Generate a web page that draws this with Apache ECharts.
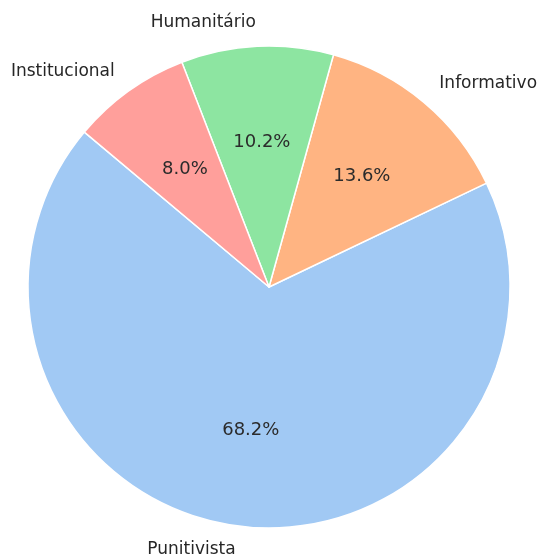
<!DOCTYPE html>
<html>
<head>
<meta charset="utf-8">
<script src="https://cdn.jsdelivr.net/npm/echarts@6/dist/echarts.min.js"></script>
<style>
  html, body { margin: 0; padding: 0; background: #fff; }
  #main { width: 539px; height: 555px; }
</style>
</head>
<body>
<div id="main"></div>
<script>
var categories = ['Punitivista', 'Informativo', 'Humanitário', 'Institucional'];
var shares = [68.2, 13.6, 10.2, 8.0];
var colors = ['#a1c9f4', '#ffb482', '#8de5a1', '#ff9f9b'];

var R = 241;
var pieData = categories.map(function (name, i) {
    return { name: name, value: shares[i], itemStyle: { color: colors[i] } };
});

var myChart = echarts.init(document.getElementById('main'));
myChart.setOption({
    animation: false,
    series: [
        {
            // fatias + nomes por fora
            type: 'pie',
            center: [269, 287],
            radius: [0, R],
            startAngle: 140,
            clockwise: false,
            avoidLabelOverlap: false,
            silent: true,
            itemStyle: { borderColor: '#fff', borderWidth: 1.5 },
            label: {
                show: true,
                position: 'outside',
                formatter: '{b}',
                fontFamily: 'DejaVu Sans',
                fontSize: 17,
                color: '#262626',
                distanceToLabelLine: 0
            },
            labelLine: { show: false, length: 24, length2: 0 },
            data: pieData
        },
        {
            // percentuais a 0.6 do raio
            type: 'pie',
            center: [269, 287],
            radius: [0, 283],
            startAngle: 140,
            clockwise: false,
            avoidLabelOverlap: false,
            silent: true,
            z: 3,
            itemStyle: { color: 'rgba(0,0,0,0)' },
            label: {
                show: true,
                position: 'inside',
                formatter: function (p) { return p.value.toFixed(1) + '%'; },
                fontFamily: 'DejaVu Sans',
                fontSize: 18,
                color: '#2b2b2b'
            },
            labelLine: { show: false },
            data: categories.map(function (name, i) {
                return { name: name, value: shares[i] };
            })
        }
    ]
});
</script>
</body>
</html>
